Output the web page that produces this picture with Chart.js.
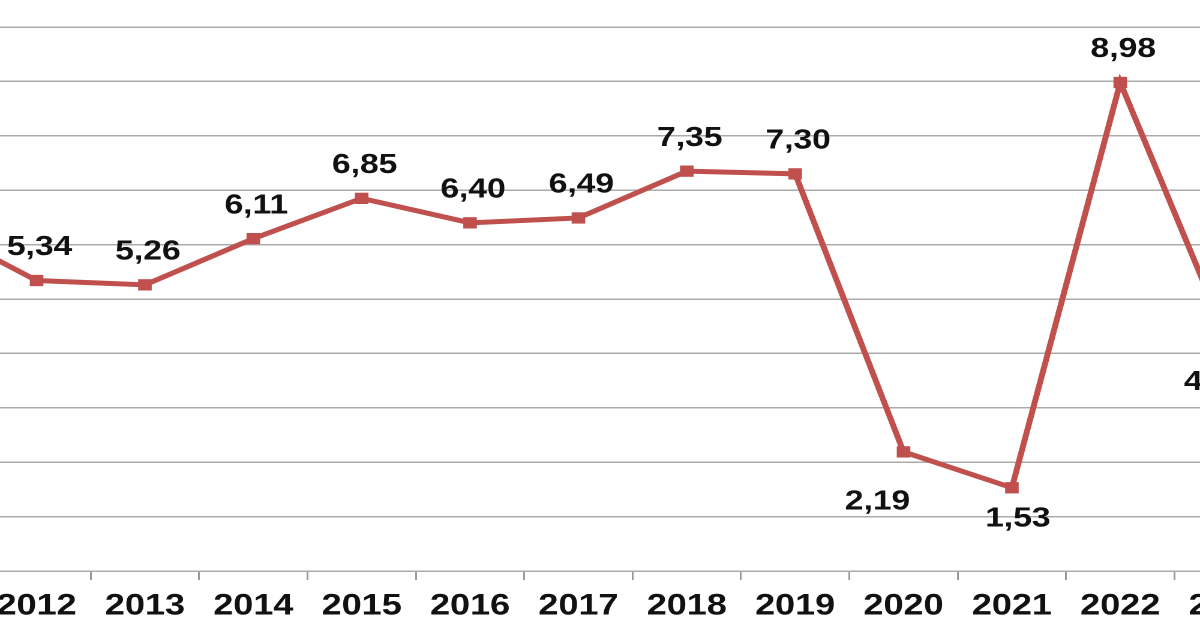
<!DOCTYPE html>
<html>
<head>
<meta charset="utf-8">
<script src="https://cdn.jsdelivr.net/npm/chart.js@4/dist/chart.umd.min.js"></script>
<style>
  html, body { margin: 0; padding: 0; background: #fff; }
  #frame { position: relative; width: 1200px; height: 630px; overflow: hidden; background: #fff; }
  /* the source image is stretched horizontally, so the chart is drawn narrower and scaled in x */
  #wrap { position: absolute; left: -126.5px; top: 0; width: 1174px; height: 630px;
          transform-origin: 0 0; transform: scaleX(1.2); }
</style>
</head>
<body>
<div id="frame">
  <div id="wrap"><canvas id="myChart"></canvas></div>
</div>
<script>
const STRETCH = 1.2;

const years = ['2011', '2012', '2013', '2014', '2015', '2016', '2017', '2018', '2019', '2020', '2021', '2022', '2023'];
const rates = [6.38, 5.34, 5.26, 6.11, 6.85, 6.40, 6.49, 7.35, 7.30, 2.19, 1.53, 8.98, 4.20];
const yMin = 0;
const yMax = 10;
const yStep = 1;

// label placement (display px): most labels sit above the point, a few were moved below
const labelShift = {
  '2020': [-26, 50],
  '2021': [6, 31],
  '2023': [-12, 40]
};
const defaultShift = [3, -33];

const fontFamily = '"Liberation Sans", Arial, sans-serif';

const valueLabels = {
  id: 'valueLabels',
  afterDatasetsDraw(chart) {
    const ctx = chart.ctx;
    const meta = chart.getDatasetMeta(0);
    ctx.save();
    ctx.font = 'bold 28px ' + fontFamily;
    ctx.fillStyle = '#111';
    ctx.textAlign = 'center';
    ctx.textBaseline = 'middle';
    meta.data.forEach((pt, i) => {
      const s = labelShift[years[i]] || defaultShift;
      const txt = rates[i].toFixed(2).replace('.', ',');
      ctx.fillText(txt, pt.x + s[0] / STRETCH, pt.y + s[1]);
    });
    ctx.restore();
  }
};

let chart = null;
const showChart = () => {
  if (chart) chart.destroy();
  chart = new Chart('myChart', {
    type: 'line',
    data: {
      labels: years,
      datasets: [{
        data: rates,
        borderColor: '#c0504d',
        backgroundColor: '#c0504d',
        borderWidth: 5,
        pointStyle: 'rect',
        pointRadius: 8,
        pointBorderWidth: 0,
        tension: 0
      }]
    },
    options: {
      responsive: true,
      maintainAspectRatio: false,
      animation: false,
      devicePixelRatio: 2,
      layout: { autoPadding: false, padding: { top: 27, left: 0, right: 0, bottom: 0 } },
      plugins: { legend: { display: false }, tooltip: { enabled: false } },
      scales: {
        x: {
          offset: true,
          grid: { offset: true, drawOnChartArea: false, drawTicks: true, tickLength: 9, color: '#999', lineWidth: 1.5 },
          border: { color: '#aaa', width: 1.5 },
          ticks: {
            autoSkip: false, maxRotation: 0, color: '#111', padding: 8,
            font: { family: fontFamily, size: 30, weight: 'bold' }
          },
          afterFit: (s) => { s.height = 59; }
        },
        y: {
          min: yMin, max: yMax,
          grid: { color: '#aaa', lineWidth: 1.5, drawTicks: false },
          border: { display: false },
          ticks: { display: false, stepSize: yStep },
          afterFit: (s) => { s.width = 0; }
        }
      }
    },
    plugins: [valueLabels]
  });
  return chart;
};

showChart();
</script>
</body>
</html>
